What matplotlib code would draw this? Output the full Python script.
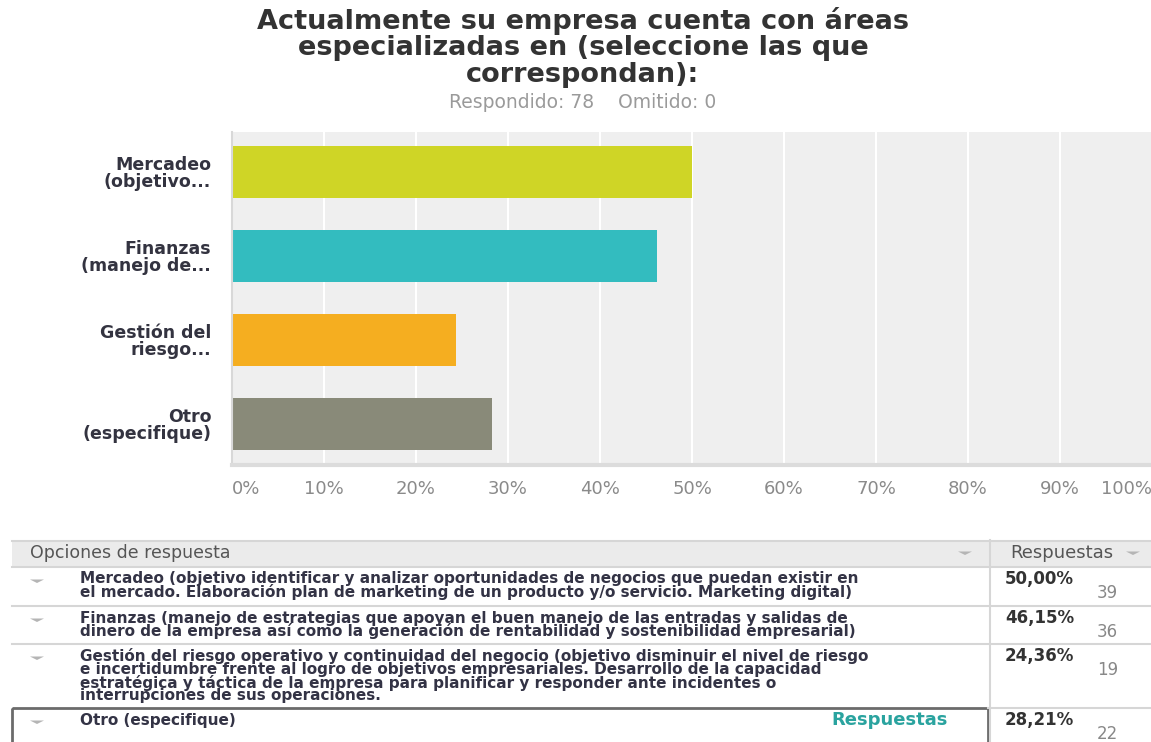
import matplotlib

matplotlib.use('Agg')  # no display here
import matplotlib.pyplot as plt
from matplotlib.patches import Rectangle

# chart data
categories = ["Mercadeo\n(objetivo...", "Finanzas\n(manejo de...", "Gestión del\nriesgo...", "Otro\n(especifique)"]
percent = [50.00, 46.15, 24.36, 28.21]
counts = [39, 36, 19, 22]
bar_colors = ["#cfd526", "#33bcbf", "#f5ae20", "#898a79"]
tick_labels = ["0%", "10%", "20%", "30%", "40%", "50%", "60%", "70%", "80%", "90%", "100%"]

title_lines = ["Actualmente su empresa cuenta con áreas",
               "especializadas en (seleccione las que",
               "correspondan):"]
subtitle = "Respondido: 78    Omitido: 0"

# full answer texts for the table, as wrapped in the survey page
answer_lines = [
    ["Mercadeo (objetivo identificar y analizar oportunidades de negocios que puedan existir en",
     "el mercado. Elaboración plan de marketing de un producto y/o servicio. Marketing digital)"],
    ["Finanzas (manejo de estrategias que apoyan el buen manejo de las entradas y salidas de",
     "dinero de la empresa así como la generación de rentabilidad y sostenibilidad empresarial)"],
    ["Gestión del riesgo operativo y continuidad del negocio (objetivo disminuir el nivel de riesgo",
     "e incertidumbre frente al logro de objetivos empresariales. Desarrollo de la capacidad",
     "estratégica y táctica de la empresa para planificar y responder ante incidentes o",
     "interrupciones de sus operaciones."],
    ["Otro (especifique)"],
]
pct_labels = ["50,00%", "46,15%", "24,36%", "28,21%"]

W, H = 1151, 742
fig = plt.figure(figsize=(W / 100, H / 100), dpi=100)

# bar chart
ax = fig.add_axes([232 / W, 1 - 465 / H, 920 / W, 333 / H])
ax.set_facecolor("#efefef")
ax.barh(range(len(categories)), percent, height=0.62, color=bar_colors, zorder=2)
ax.set_xlim(0, 100)
ax.set_ylim(3.49, -0.475)
ax.set_xticks(range(0, 101, 10))
ax.set_xticklabels(tick_labels, fontsize=13, color="#8a8a8a")
ax.set_yticks(range(len(categories)))
ax.set_yticklabels(categories, fontsize=12.5, fontweight="bold", color="#333340", linespacing=0.95)
ax.tick_params(axis="both", length=0)
ax.tick_params(axis="x", pad=11)
ax.tick_params(axis="y", pad=15)
xt = ax.get_xticklabels()
xt[0].set_ha("left")
xt[-1].set_ha("right")
ax.grid(axis="x", color="white", lw=1.5, zorder=1)
ax.set_axisbelow(True)
for s in ["top", "right"]:
    ax.spines[s].set_visible(False)
ax.spines["bottom"].set_color("#dcdcdc")
ax.spines["bottom"].set_linewidth(3)
ax.spines["left"].set_color("#d8d8d8")
ax.spines["left"].set_linewidth(1.5)

# overlay in pixel coords for title and table
tax = fig.add_axes([0, 0, 1, 1], zorder=-1)
tax.set_xlim(0, W)
tax.set_ylim(H, 0)
tax.axis("off")

for i, line in enumerate(title_lines):
    tax.text(583, 21 + i * 27, line, ha="center", va="center", fontsize=19.5,
             fontweight="bold", color="#333333")
tax.text(583, 103, subtitle, ha="center", va="center", fontsize=13.5, color="#9a9a9a")


def dropdown(x, y):
    tax.fill([x - 7, x + 7, x], [y - 1.5, y - 1.5, y + 2], color="#b5b5b5", lw=0)


# table header
tax.add_patch(Rectangle((12, 541), W - 12, 25, color="#ebebeb", lw=0))
tax.text(30, 553, "Opciones de respuesta", ha="left", va="center", fontsize=12.5, color="#555555")
tax.text(1010, 553, "Respuestas", ha="left", va="center", fontsize=13, color="#555555")
dropdown(965, 553)
dropdown(1133, 553)

row_tops = [567, 606, 644, 708]
grid_c = "#d6d6d6"
tax.plot([12, W], [540.5, 540.5], color=grid_c, lw=1.5)
for y in row_tops[:3]:
    tax.plot([12, W], [y, y], color=grid_c, lw=1.5)
tax.plot([988, W], [708, 708], color=grid_c, lw=1.5)
tax.plot([990, 990], [540, H], color=grid_c, lw=1.5)
tax.add_patch(Rectangle((12, 708), 976, 60, fill=False, edgecolor="#6b6b6b", lw=2))

for r, top in enumerate(row_tops):
    dropdown(37, top + 14)
    for k, line in enumerate(answer_lines[r]):
        tax.text(80, top + 12 + k * 13.3, line, ha="left", va="center", fontsize=11,
                 fontweight="bold", color="#333345")
    tax.text(1005, top + 12, pct_labels[r], ha="left", va="center", fontsize=12,
             fontweight="bold", color="#333333")
    tax.text(1118, top + 26, str(counts[r]), ha="right", va="center", fontsize=12,
             color="#888888")

tax.text(948, 720, "Respuestas", ha="right", va="center", fontsize=13,
         fontweight="bold", color="#2aa39f")

fig.savefig("out.png", dpi=100)
